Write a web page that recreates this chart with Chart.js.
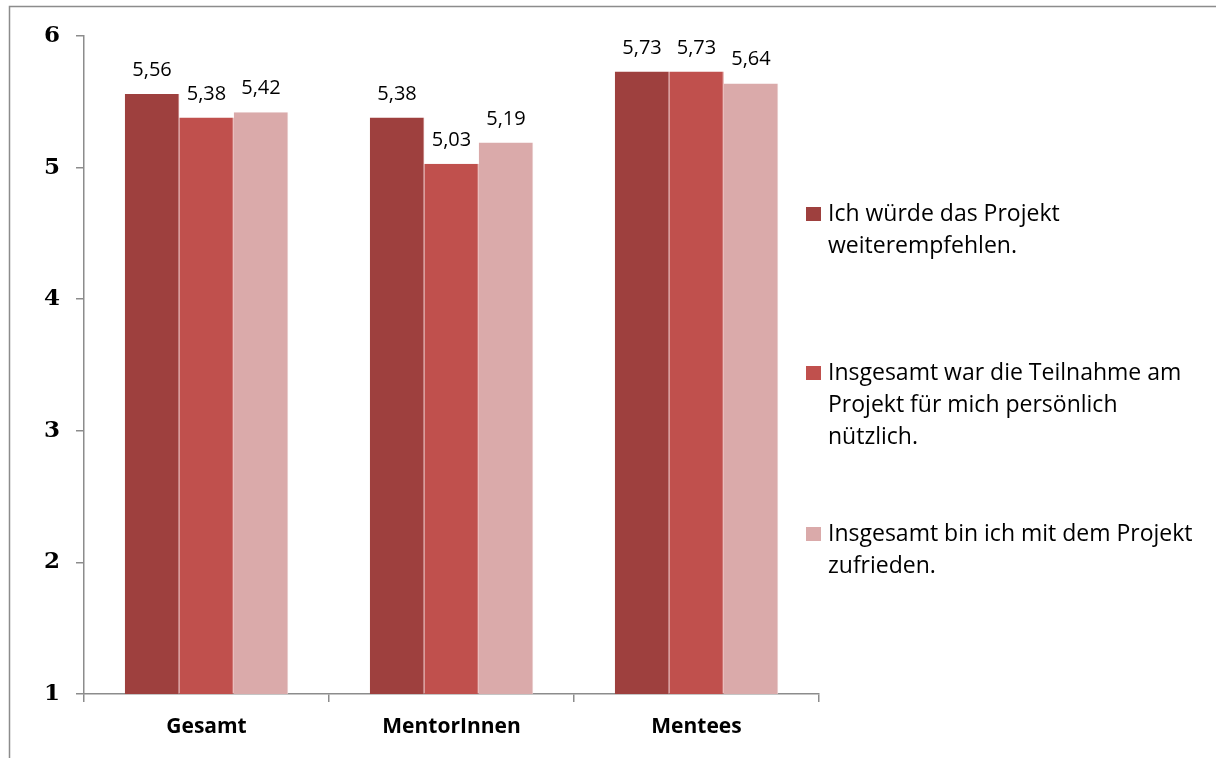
<!DOCTYPE html>
<html>
<head>
<meta charset="utf-8">
<script src="https://cdn.jsdelivr.net/npm/chart.js@4.4.0/dist/chart.umd.min.js"></script>
<style>
  html, body { margin: 0; padding: 0; background: #fff; }
  #wrap { width: 1216px; height: 758px; position: relative; }
</style>
</head>
<body>
<div id="wrap"><canvas id="chart" width="1216" height="758"></canvas></div>
<script>
// Data
const categories = ['Gesamt', 'MentorInnen', 'Mentees'];
const seriesLabels = [
    'Ich würde das Projekt weiterempfehlen.',
    'Insgesamt war die Teilnahme am Projekt für mich persönlich nützlich.',
    'Insgesamt bin ich mit dem Projekt zufrieden.'
];
// how the legend text wraps in the original
const legendLines = [
    ['Ich würde das Projekt', 'weiterempfehlen.'],
    ['Insgesamt war die Teilnahme am', 'Projekt für mich persönlich', 'nützlich.'],
    ['Insgesamt bin ich mit dem Projekt', 'zufrieden.']
];
const weiterempfehlen = [5.56, 5.38, 5.73];
const nuetzlich = [5.38, 5.03, 5.73];
const zufrieden = [5.42, 5.19, 5.64];
const yTicks = [1, 2, 3, 4, 5, 6];

const colors = ['#9E403E', '#C0504D', '#DAAAAA'];
const edgeColors = ['#C07472', '#D88A88', '#E8CACA'];
const axisColor = '#8C8C8C';
const sansFont = '"Open Sans", sans-serif';

// Frame line (top and left edges of the original chart box)
const framePlugin = {
    id: 'frame',
    beforeDraw(chart) {
        const ctx = chart.ctx;
        ctx.save();
        ctx.strokeStyle = axisColor;
        ctx.lineWidth = 1.5;
        ctx.beginPath();
        ctx.moveTo(1216, 6.5);
        ctx.lineTo(9.5, 6.5);
        ctx.lineTo(9.5, 758);
        ctx.stroke();
        ctx.restore();
    }
};

// Value labels above each bar
const valueLabelPlugin = {
    id: 'valueLabels',
    afterDatasetsDraw(chart) {
        const ctx = chart.ctx;
        ctx.save();
        ctx.font = '20px ' + sansFont;
        ctx.fillStyle = '#000';
        ctx.textAlign = 'center';
        ctx.textBaseline = 'alphabetic';
        chart.data.datasets.forEach((ds, i) => {
            chart.getDatasetMeta(i).data.forEach((bar, j) => {
                const txt = ds.data[j].toFixed(2).replace('.', ',');
                ctx.fillText(txt, bar.x, bar.y - 18);
            });
        });
        ctx.restore();
    }
};

// Legend on the right with wrapped lines
const sideLegendPlugin = {
    id: 'sideLegend',
    afterDraw(chart) {
        const ctx = chart.ctx;
        const x0 = 806;
        const baselines = [221, 380, 541];
        ctx.save();
        ctx.font = '23px ' + sansFont;
        ctx.textBaseline = 'alphabetic';
        ctx.textAlign = 'left';
        chart.data.datasets.forEach((ds, i) => {
            const y = baselines[i];
            ctx.fillStyle = ds.backgroundColor;
            ctx.fillRect(x0, y - 14, 15, 14);
            ctx.fillStyle = '#000';
            legendLines[i].forEach((line, k) => {
                ctx.fillText(line, 828, y + k * 32);
            });
        });
        ctx.restore();
    }
};

const ctx = document.getElementById('chart').getContext('2d');
new Chart(ctx, {
    type: 'bar',
    data: {
        labels: categories,
        datasets: [
            { label: seriesLabels[0], data: weiterempfehlen, backgroundColor: colors[0], borderColor: edgeColors[0] },
            { label: seriesLabels[1], data: nuetzlich, backgroundColor: colors[1], borderColor: edgeColors[1] },
            { label: seriesLabels[2], data: zufrieden, backgroundColor: colors[2], borderColor: edgeColors[2] }
        ]
    },
    options: {
        responsive: false,
        animation: false,
        layout: { padding: { top: 36, right: 397, bottom: 0, left: 0 } },
        datasets: {
            bar: {
                categoryPercentage: 0.667,
                barPercentage: 1.0,
                borderWidth: { top: 0, left: 0, bottom: 0, right: 1 },
                borderSkipped: false
            }
        },
        plugins: {
            legend: { display: false },
            tooltip: { enabled: false }
        },
        scales: {
            x: {
                grid: {
                    display: true,
                    offset: true,
                    drawOnChartArea: false,
                    drawTicks: true,
                    tickLength: 8,
                    color: axisColor,
                    lineWidth: 1.5
                },
                border: { color: axisColor, width: 1.5 },
                ticks: {
                    color: '#000',
                    font: { family: sansFont, size: 21, weight: 'bold' },
                    padding: 12
                },
                afterFit(scale) { scale.height = 64; }
            },
            y: {
                min: yTicks[0],
                max: yTicks[yTicks.length - 1],
                afterBuildTicks(scale) {
                    scale.ticks = yTicks.map(v => ({ value: v }));
                },
                grid: {
                    display: true,
                    drawOnChartArea: false,
                    drawTicks: true,
                    tickLength: 8,
                    color: axisColor,
                    lineWidth: 1.5
                },
                border: { color: axisColor, width: 1.5 },
                ticks: {
                    color: '#000',
                    font: { family: '"DejaVu Serif", serif', size: 23, weight: 'bold' },
                    padding: 16
                },
                afterFit(scale) { scale.width = 84; }
            }
        }
    },
    plugins: [framePlugin, valueLabelPlugin, sideLegendPlugin]
});
</script>
</body>
</html>
